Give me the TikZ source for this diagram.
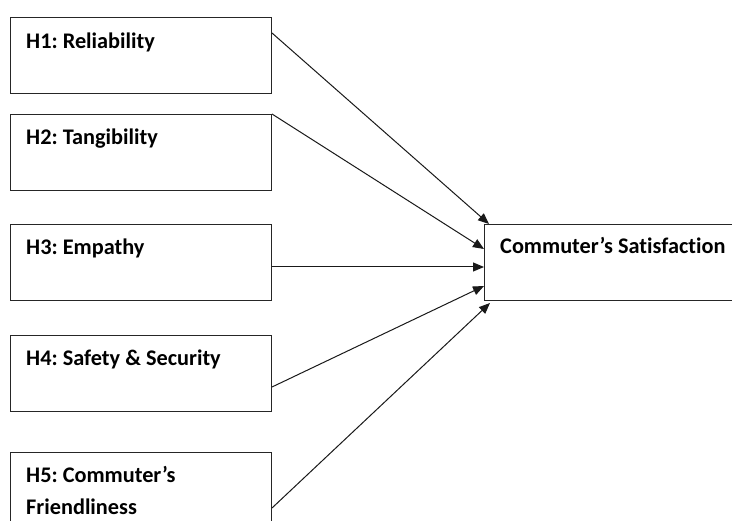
\documentclass[tikz,border=0pt]{standalone}
\usepackage{fontspec}
\setmainfont{Carlito}[Ligatures={NoCommon,NoRare,NoDiscretionary},Contextuals=NoAlternate]
\frenchspacing
\usetikzlibrary{arrows.meta,calc}
\begin{document}
\begin{tikzpicture}[x=1pt,y=-1pt,
  box/.style={draw=black!85, line width=1pt, minimum width=261pt, minimum height=76pt, anchor=north west, inner sep=0pt},
  lbl/.style={anchor=base west, font=\bfseries\fontsize{22.3}{32}\selectfont, inner sep=0pt, text=black},
  conn/.style={draw=black!90, line width=1pt, -{Triangle[length=11pt,width=9pt]}}]
\useasboundingbox (0,0) rectangle (732,521);
\clip (0,0) rectangle (732,521);
\node[box] (h1) at (10,17) {};
\node[box] (h2) at (10,114) {};
\node[box] (h3) at (10,224) {};
\node[box] (h4) at (10,335) {};
\node[box] (h5) at (10,452) {};
\node[box, minimum width=280pt] (cs) at (484,224) {};
\node[lbl] (t1) at ($(h1.north west)+(16,32)$) {H1: Reliability};
\node[lbl] (t2) at ($(h2.north west)+(16,31)$) {H2: Tangibility};
\node[lbl] (t3) at ($(h3.north west)+(16,31)$) {H3: Empathy};
\node[lbl] (t4) at ($(h4.north west)+(16,31)$) {H4: Safety \& Security};
\node[lbl] (t5a) at ($(h5.north west)+(16,31)$) {H5: Commuter’s};
\node[lbl] (t5b) at ($(h5.north west)+(16,63)$) {Friendliness};
\node[lbl] (tc) at ($(cs.north west)+(16,30)$) {Commuter’s Satisfaction};
\draw[conn] ($(h1.north east)+(0,16)$) -- ($(cs.north west)+(5,0)$);
\draw[conn] (h2.north east) -- ($(cs.north west)+(0,25)$);
\draw[conn] ($(h3.north east)+(0,43)$) -- ($(cs.north west)+(0,43)$);
\draw[conn] ($(h4.north east)+(0,52)$) -- ($(cs.north west)+(0,62)$);
\draw[conn] ($(h5.north east)+(0,56)$) -- ($(cs.south west)+(6,2)$);
\end{tikzpicture}
\end{document}
